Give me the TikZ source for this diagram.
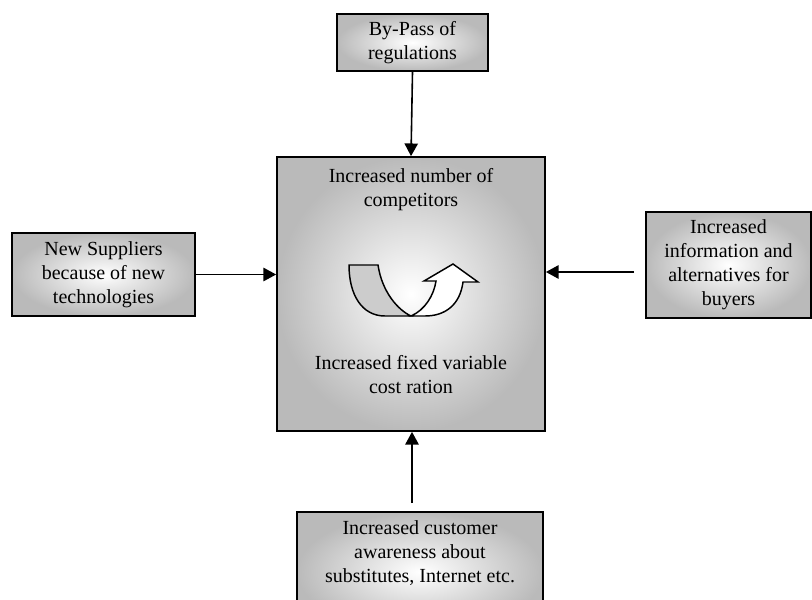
\documentclass[tikz,border=0pt]{standalone}
\usepackage{fontspec}
\setmainfont{Liberation Serif}
\usetikzlibrary{arrows.meta}
\tikzset{
  box/.style={draw, line width=1.3pt, shading=radial, inner color=white, outer color=black!27, align=center},
  txt/.style={align=center, font=\fontsize{15}{18}\selectfont},
  link/.style={line width=1.2pt, -{Triangle[length=9.5pt,width=10pt]}}
}
\begin{document}
\begin{tikzpicture}[x=0.75pt, y=-0.75pt]
        \useasboundingbox (0, 0) rectangle (812, 599);
        \node[box, minimum width=201pt, minimum height=205.5pt] (comp) at (411, 294) {};
        \node[txt] (numcomp) at (411, 190) {Increased number of\\competitors};
        \node[txt] (fixcost) at (411, 375) {Increased fixed variable\\cost ration};
        
        \node[box, txt, minimum width=113.25pt, minimum height=42.75pt] (bypass) at (412.5, 42.5) {By-Pass of\\regulations};
        \node[box, txt, minimum width=137.25pt, minimum height=62.25pt] (newsup) at (103.5, 274.5) {New Suppliers\\because of new\\technologies};
        \node[box, txt, minimum width=123.75pt, minimum height=79.5pt] (buyers) at (728.5, 265) {Increased\\information and\\alternatives for\\buyers};
        \node[box, minimum width=184.5pt, minimum height=90pt, anchor=north] (custbox) at (420, 511) {};
        \node[txt] (cust) at (420, 553) {Increased customer\\awareness about\\substitutes, Internet etc.};
        
        % turning arrow
        \draw[line width=1.1pt, fill=black!20] (349, 265) -- (378, 265) .. controls (382, 292) and (398, 310) .. (411, 316) -- (385, 316) .. controls (362, 316) and (349, 295) .. (349, 265) -- cycle;
        \draw[line width=1.1pt, fill=white, line join=miter] (411, 316) .. controls (425, 310) and (434, 295) .. (436, 281) -- (424, 281) -- (453, 264) -- (478, 282) -- (463, 282) .. controls (460, 305) and (445, 316) .. (425, 316) -- cycle;
        
        \coordinate (buyend) at (634, 272);
        \coordinate (custend) at (412, 503);
        \draw[link] (bypass.south) -- (comp.north);
        \draw[link] (newsup.east) -- (newsup.east -| comp.west);
        \draw[link] (buyend) -- (buyend -| comp.east);
        \draw[link] (custend) -- (custend |- comp.south);
    \end{tikzpicture}
\end{document}
